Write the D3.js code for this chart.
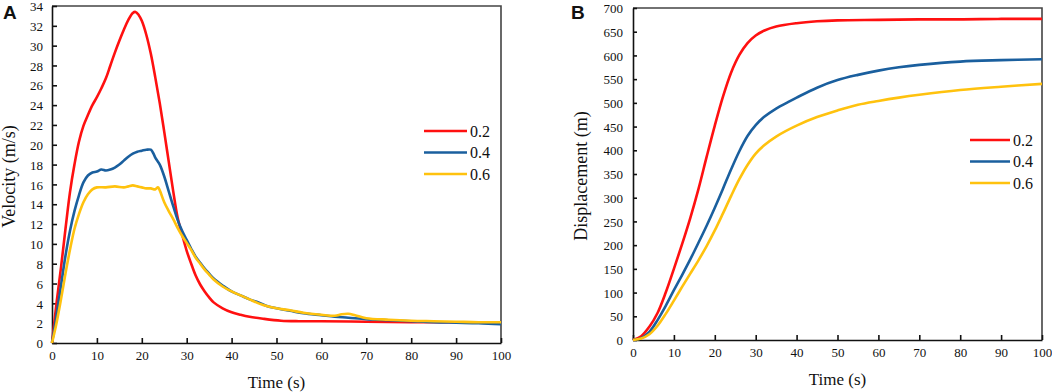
<!DOCTYPE html>
<meta charset="utf-8">
<style>
  body { margin: 0; background: #fff; }
  text { font-family: "Liberation Serif", "Times New Roman", serif; fill: #111; }
</style>
<div id="container"></div>
<script src="https://cdn.jsdelivr.net/npm/d3@7"></script>
<script>

// ---- data: [time (s), value] ----
const seriesNames = ['0.2', '0.4', '0.6'];
const seriesColors = ['#ff1010', '#1a5f9e', '#ffc20e'];

const velRed = [[0,0],[1,4],[2,7.6],[3,11.5],[4,15.2],[5,18],[6,20.3],[7,21.9],[8,23],[9,24],[10,24.8],[11,25.7],[12,26.7],[13,28],[14,29.3],[15,30.5],[16,31.6],[17,32.6],[18,33.3],[18.6,33.4],[19.3,33.1],[20,32.5],[21,31.1],[22,29.2],[23,26.8],[24,24.2],[25,21.3],[26,18.3],[27,15.3],[28,12.6],[29,10.9],[30,9.3],[31,8],[32,6.8],[33,5.9],[34,5.2],[35,4.6],[36,4.1],[38,3.5],[40,3.1],[42,2.85],[44,2.65],[47,2.45],[51,2.25],[55,2.2],[60,2.2],[70,2.15],[80,2.1],[90,2.1],[100,2.1]];
const velBlue = [[0,0],[1,2.8],[2,5.8],[3,8.8],[4,11.3],[5,13.3],[6,14.9],[7,16.2],[8,16.9],[9,17.2],[10,17.3],[11,17.5],[12,17.4],[13,17.5],[14,17.7],[15,18],[16,18.4],[17,18.8],[18,19.1],[19,19.3],[20,19.4],[21,19.5],[22,19.5],[22.6,19.1],[23,18.7],[24,18],[25,16.8],[26,15.3],[27,13.8],[28,12.4],[29,11.3],[30,10.4],[31,9.5],[32,8.7],[33,8.1],[34,7.5],[35,7],[36,6.5],[38,5.8],[40,5.2],[42,4.8],[44,4.4],[46,4.1],[48,3.7],[50,3.5],[53,3.25],[56,3.0],[60,2.8],[63,2.65],[66,2.55],[70,2.4],[75,2.3],[80,2.2],[85,2.1],[90,2.05],[95,2.0],[100,1.9]];
const velYellow = [[0,0],[1,2],[2,4.4],[3,7],[4,9.4],[5,11.5],[6,13],[7,14.2],[8,15],[9,15.5],[10,15.7],[12,15.7],[14,15.8],[16,15.7],[17,15.8],[18,15.9],[19,15.8],[20,15.7],[21,15.6],[22,15.6],[23,15.5],[23.6,15.7],[24,15.4],[25,14.2],[26,13.3],[27,12.5],[28,11.6],[29,10.8],[30,10.1],[31,9.4],[32,8.6],[33,8],[34,7.4],[35,6.9],[36,6.4],[38,5.7],[40,5.2],[42,4.8],[44,4.4],[46,4.0],[48,3.7],[50,3.5],[53,3.3],[56,3.05],[60,2.85],[63,2.75],[64.5,2.9],[66,2.95],[67.5,2.8],[70,2.5],[75,2.35],[80,2.25],[85,2.2],[90,2.15],[95,2.1],[100,2.1]];

const dispRed = [[0,0],[2,8],[4,28],[6,57],[8,100],[10,150],[12,202],[14,257],[16,318],[18,386],[20,452],[22,513],[24,564],[26,601],[28,626],[30,642],[32,652],[35,661],[40,668],[45,672],[50,674],[60,675],[70,676],[80,676],[90,677],[100,677]];
const dispBlue = [[0,0],[2,4],[4,17],[6,42],[8,72],[10,105],[12,137],[14,170],[16,205],[18,241],[20,279],[22,319],[24,360],[26,398],[28,430],[30,453],[32,470],[35,488],[38,502],[40,511],[45,532],[50,548],[55,559],[60,568],[65,575],[70,580],[80,587],[90,590],[100,592]];
const dispYellow = [[0,0],[2,3],[4,12],[6,30],[8,55],[10,83],[12,112],[14,140],[16,168],[18,198],[20,231],[22,267],[24,304],[26,339],[28,369],[30,393],[32,410],[35,429],[40,452],[45,470],[50,484],[55,496],[60,504],[65,511],[70,517],[80,527],[90,534],[100,540]];

const timeTicks = d3.range(0, 101, 10);
const velTicks = d3.range(0, 35, 2);
const dispTicks = d3.range(0, 701, 50);

const svg = d3.create("svg").attr("width", 1052).attr("height", 392);

function panel(o) {
  const x = d3.scaleLinear().domain([0, 100]).range([o.left, o.right]);
  const y = d3.scaleLinear().domain(o.yDomain).range([o.bottom, o.top]);
  const g = svg.append("g");

  // frame (top + right)
  g.append("path")
    .attr("d", `M${o.left},${o.top}H${o.right}V${o.bottom}`)
    .attr("fill", "none").attr("stroke", "#444").attr("stroke-width", 1.6);

  const xa = g.append("g").attr("transform", `translate(0,${o.bottom})`)
    .call(d3.axisBottom(x).tickValues(timeTicks).tickSize(-5).tickSizeOuter(0).tickPadding(8));
  const ya = g.append("g").attr("transform", `translate(${o.left},0)`)
    .call(d3.axisLeft(y).tickValues(o.yTicks).tickSize(-o.ytick).tickSizeOuter(0).tickPadding(o.ypad));
  [xa, ya].forEach(a => {
    a.selectAll("path, line").attr("stroke", "#111").attr("stroke-width", 1.6);
    a.selectAll("text").style("font-family", '"Liberation Serif", serif').style("font-size", "13px").attr("fill", "#111");
  });
  ya.selectAll("text").attr("dy", "0.36em");

  const line = d3.line().x(d => x(d[0])).y(d => y(d[1])).curve(d3.curveCatmullRom.alpha(0.5));
  o.series.forEach((s, i) => {
    g.append("path").datum(s).attr("d", line)
      .attr("fill", "none").attr("stroke", seriesColors[i]).attr("stroke-width", 2.6)
      .attr("stroke-linejoin", "round");
  });

  // legend
  seriesNames.forEach((n, i) => {
    const ly = o.legY + i * o.legGap;
    g.append("line").attr("x1", o.legX).attr("x2", o.legX + o.legW).attr("y1", ly).attr("y2", ly)
      .attr("stroke", seriesColors[i]).attr("stroke-width", 2.6);
    g.append("text").attr("x", o.legX + o.legW + 3).attr("y", ly + 5.5)
      .style("font-size", "16px").text(n);
  });

  g.append("text").attr("x", (o.left + o.right) / 2).attr("y", o.xTitleY)
    .attr("text-anchor", "middle").style("font-size", "17px").text("Time (s)");
  g.append("text").attr("transform", `translate(${o.yTitleX},${(o.top + o.bottom) / 2 + 2}) rotate(-90)`)
    .attr("text-anchor", "middle").style("font-size", "18px").text(o.yTitle);
  g.append("text").attr("x", o.tagX).attr("y", o.tagY)
    .style("font-family", '"Liberation Sans", Arial, sans-serif').style("font-weight", "bold")
    .style("font-size", "19px").text(o.tag);
}

panel({ left: 52, right: 501, top: 6, bottom: 343, yDomain: [0, 34], yTicks: velTicks, ytick: 5, ypad: 9,
  series: [velRed, velBlue, velYellow], legX: 424, legY: 131, legGap: 21.5, legW: 43,
  xTitleY: 388, yTitleX: 15, yTitle: "Velocity (m/s)", tag: "A", tagX: 3, tagY: 19 });

panel({ left: 633, right: 1042, top: 8, bottom: 340, yDomain: [0, 700], yTicks: dispTicks, ytick: 4, ypad: 10,
  series: [dispRed, dispBlue, dispYellow], legX: 970, legY: 140, legGap: 21.5, legW: 40,
  xTitleY: 385, yTitleX: 587, yTitle: "Displacement (m)", tag: "B", tagX: 571, tagY: 19 });

container.append(svg.node());
</script>
